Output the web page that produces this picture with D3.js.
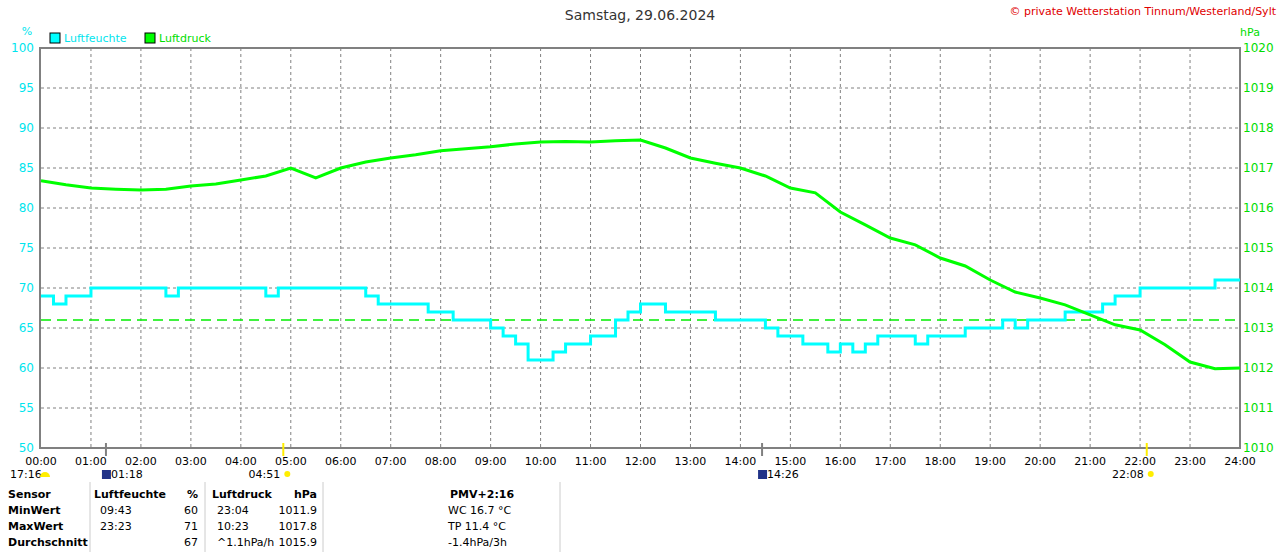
<!DOCTYPE html><html><head><meta charset="utf-8"><script src="https://cdn.jsdelivr.net/npm/d3@7"></script>
<style>body{margin:0;background:#fff}svg{font-family:"DejaVu Sans",sans-serif}</style></head><body><svg width="1280" height="552"></svg>
<script>
const humTimes=d3.range(0,24.01,0.25);
const humVals=[69,68,69,69,70,70,70,70,70,70,69,70,70,70,70,70,70,70,69,70,70,70,70,70,70,70,69,68,68,68,68,67,67,66,66,66,65,64,63,61,61,62,63,63,64,64,66,67,68,68,67,67,67,67,66,66,66,66,65,64,64,63,63,62,63,62,63,64,64,64,63,64,64,64,65,65,65,66,65,66,66,66,67,67,67,68,69,69,70,70,70,70,70,70,71,71,71];
const presTimes=d3.range(0,24.01,0.5);
const presVals=[1016.68,1016.58,1016.5,1016.47,1016.45,1016.47,1016.55,1016.6,1016.7,1016.8,1017.0,1016.75,1017.0,1017.15,1017.25,1017.33,1017.43,1017.48,1017.53,1017.6,1017.65,1017.66,1017.65,1017.68,1017.7,1017.5,1017.25,1017.12,1017.0,1016.8,1016.5,1016.38,1015.9,1015.58,1015.25,1015.08,1014.75,1014.55,1014.2,1013.9,1013.75,1013.58,1013.33,1013.08,1012.95,1012.58,1012.15,1011.98,1012.0];
const hLeft=[50,55,60,65,70,75,80,85,90,95,100];
const pRight=[1010,1011,1012,1013,1014,1015,1016,1017,1018,1019,1020];
const hours=d3.range(0,25);
const svg=d3.select("svg");
const x=d3.scaleLinear().domain([0,24]).range([41,1240]);
const yH=d3.scaleLinear().domain([50,100]).range([448,48]);
const yP=d3.scaleLinear().domain([1010,1020]).range([448,48]);
hours.slice(1,24).forEach(h=>svg.append("line").attr("x1",x(h)).attr("x2",x(h)).attr("y1",48).attr("y2",448).attr("stroke","#808080").attr("stroke-dasharray","3,3"));
hLeft.slice(1,10).forEach(v=>svg.append("line").attr("x1",41).attr("x2",1240).attr("y1",yH(v)).attr("y2",yH(v)).attr("stroke","#808080").attr("stroke-dasharray","3,3"));
svg.append("rect").attr("x",40).attr("y",48).attr("width",1200).attr("height",400).attr("fill","none").attr("stroke","#808080").attr("stroke-width",2);
hLeft.forEach(v=>svg.append("text").attr("x",34).attr("y",yH(v)+4).attr("text-anchor","end").attr("font-size",12).attr("fill","#00e5ee").text(v));
pRight.forEach(v=>svg.append("text").attr("x",1243).attr("y",yP(v)+4).attr("font-size",12).attr("fill","#00dd00").text(v));
svg.append("text").attr("x",27).attr("y",35).attr("text-anchor","middle").attr("font-size",11).attr("fill","#00e5ee").text("%");
svg.append("text").attr("x",1250).attr("y",36).attr("text-anchor","middle").attr("font-size",11).attr("fill","#00dd00").text("hPa");
hours.forEach(h=>svg.append("text").attr("x",x(h)).attr("y",465).attr("text-anchor","middle").attr("font-size",11).text(d3.format("02")(h)+":00"));
svg.append("text").attr("x",640).attr("y",20).attr("text-anchor","middle").attr("font-size",14).attr("fill","#333").text("Samstag, 29.06.2024");
svg.append("text").attr("x",1276).attr("y",15).attr("text-anchor","end").attr("font-size",11).attr("fill","#e00000").text("© private Wetterstation Tinnum/Westerland/Sylt");
[["Luftfeuchte","#00ffff","#00e5ee",50],["Luftdruck","#00ff00","#00dd00",145]].forEach(([t,c,tc,lx])=>{
svg.append("rect").attr("x",lx).attr("y",33).attr("width",10).attr("height",10).attr("fill",c).attr("stroke","#000");
svg.append("text").attr("x",lx+14).attr("y",42).attr("font-size",11).attr("fill",tc).text(t);});
svg.append("line").attr("x1",41).attr("x2",1240).attr("y1",yH(66)).attr("y2",yH(66)).attr("stroke","#00ee00").attr("stroke-width",1.5).attr("stroke-dasharray","10,6");
svg.append("path").datum(humTimes.map((t,i)=>[t,humVals[i]])).attr("d",d3.line().x(d=>x(d[0])).y(d=>yH(d[1])).curve(d3.curveStepAfter)).attr("fill","none").attr("stroke","#00ffff").attr("stroke-width",3);
svg.append("path").datum(presTimes.map((t,i)=>[t,presVals[i]])).attr("d",d3.line().x(d=>x(d[0])).y(d=>yP(d[1]))).attr("fill","none").attr("stroke","#00ff00").attr("stroke-width",3);
[[1+18/60,"#808080","01:18","r"],[4+51/60,"#ffee00","04:51","l"],[14+26/60,"#808080","14:26","r"],[22+8/60,"#ffee00","22:08","l"]].forEach(([t,c,lab,s])=>{
svg.append("line").attr("x1",x(t)).attr("x2",x(t)).attr("y1",443).attr("y2",456).attr("stroke",c).attr("stroke-width",2);
if(s=="r"){svg.append("rect").attr("x",x(t)-4).attr("y",470).attr("width",9).attr("height",9).attr("fill","#223388");
svg.append("text").attr("x",x(t)+5).attr("y",478).attr("font-size",11).text(lab);}
else{svg.append("circle").attr("cx",x(t)+4).attr("cy",474).attr("r",3).attr("fill","#ffee00");
svg.append("text").attr("x",x(t)-3).attr("y",478).attr("text-anchor","end").attr("font-size",11).text(lab);}});
svg.append("text").attr("x",10).attr("y",478).attr("font-size",11).text("17:16");
svg.append("path").attr("d","M40,477 a5,5 0 0 1 10,0 z").attr("fill","#ffee00");
[90,205,323,560].forEach(vx=>svg.append("line").attr("x1",vx).attr("x2",vx).attr("y1",482).attr("y2",552).attr("stroke","#ccc"));
const rows=[["Sensor","Luftfeuchte","%","Luftdruck","hPa","PMV+2:16"],["MinWert","09:43","60","23:04","1011.9","WC 16.7 °C"],["MaxWert","23:23","71","10:23","1017.8","TP 11.4 °C"],["Durchschnitt","","67","^1.1hPa/h","1015.9","-1.4hPa/3h"]];
rows.forEach((r,i)=>{const yy=498+i*16,b=i==0;
const t=(xx,s,a,bold)=>svg.append("text").attr("x",xx).attr("y",yy).attr("font-size",11).attr("font-weight",bold?"bold":"normal").attr("text-anchor",a).text(s);
t(8,r[0],"start",true);t(b?94:100,r[1],"start",b);t(198,r[2],"end",b);t(b?212:217,r[3],"start",b);t(317,r[4],"end",b);t(b?450:448,r[5],"start",b);});
</script></body></html>
